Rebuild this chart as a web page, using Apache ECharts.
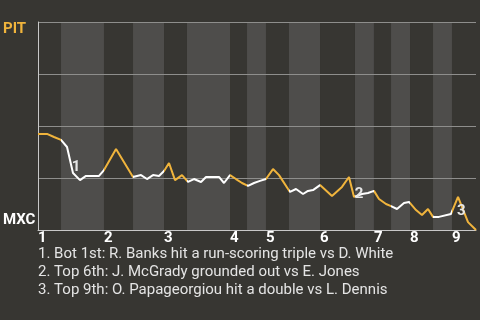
<!DOCTYPE html>
<html><head><meta charset="utf-8">
<script src="https://cdn.jsdelivr.net/npm/echarts@6/dist/echarts.min.js"></script>
<style>html,body{margin:0;padding:0;background:#373632;}#c{width:480px;height:320px;}</style>
</head><body><div id="c"></div>
<script>
// play index (x) and PIT win probability in % (y)
var playX = [0,1.54,2.74,3.94,4.97,5.99,7.19,8.22,10.45,11.30,13.36,16.27,17.64,18.66,19.69,20.72,21.58,22.43,23.46,24.66,25.68,26.71,27.91,28.77,30.99,31.85,32.88,33.90,34.93,35.96,36.99,38.01,39.04,40.24,41.27,43.15,44.18,45.38,46.23,47.09,48.29,50.34,52.05,53.25,54.11,55.48,56.51,57.53,58.39,59.59,60.45,61.47,62.67,63.53,64.73,65.75,66.78,67.64,68.66,70.72,71.92,73.63,75];
var winProb = [46.2,46.2,44.7,43.3,39.9,27.4,24.0,26.0,26.0,28.8,38.9,25.5,26.4,24.5,26.4,26.0,28.4,32.2,24.0,26.4,23.1,24.5,23.1,25.5,25.5,22.6,26.4,24.5,22.6,21.2,22.6,23.6,24.5,29.3,26.4,18.3,19.7,17.3,18.8,19.2,21.6,16.3,20.7,25.5,15.9,17.3,17.8,18.8,14.9,12.5,11.5,10.1,13.0,13.5,9.6,7.2,10.1,6.3,6.3,7.7,15.9,3.8,0];
// half-inning boundaries (top1, bot1, top2, bot2, ...) and the end
var halfInningStarts = [0,3.94,11.30,16.27,21.58,25.51,32.88,35.79,39.04,42.98,48.29,54.28,57.53,60.45,63.70,67.64,70.89];
var gameEnd = 75;
var inningLabels = ['1','2','3','4','5','6','7','8','9'];
var teamTop = 'PIT', teamBottom = 'MXC';
var notes = [
  '1. Bot 1st: R. Banks hit a run-scoring triple vs D. White',
  '2. Top 6th: J. McGrady grounded out vs E. Jones',
  '3. Top 9th: O. Papageorgiou hit a double vs L. Dennis'
];
var noteMarks = [[6.5,30.3,'1'],[54.97,17.3,'2'],[72.5,9.1,'3']];

var ORANGE = '#f0b43c', WHITE = '#ffffff', DARK = '#373632', LIGHT = '#4e4d4b';
var inningStarts = halfInningStarts.filter(function(v,i){return i%2===0;});

var bands = [], pieces = [];
for (var i=0;i<halfInningStarts.length;i++){
  var s = halfInningStarts[i], e = (i+1<halfInningStarts.length)?halfInningStarts[i+1]:gameEnd;
  var isTop = i%2===0;
  bands.push([{xAxis:s, itemStyle:{color: isTop?DARK:LIGHT}},{xAxis:e}]);
  pieces.push({gte:s, lt:(i+1<halfInningStarts.length)?e:gameEnd+1, color:isTop?ORANGE:WHITE});
}
var lineData = playX.map(function(x,i){return [x, winProb[i]];});

var chart = echarts.init(document.getElementById('c'));
chart.setOption({
  backgroundColor: DARK,
  animation: false,
  grid: {left:38, right:4, top:22, bottom:90},
  xAxis: {type:'value', min:0, max:gameEnd, z:2,
    axisLine:{show:true, lineStyle:{color:'#c8c8c8', width:1}},
    axisTick:{show:false}, splitLine:{show:false},
    axisLabel:{customValues: inningStarts, align:'left', margin:1,
      color:'#ffffff', fontFamily:'Roboto', fontWeight:'bold', fontSize:15,
      formatter:function(v){ var k = inningStarts.indexOf(v); return k>=0?inningLabels[k]:''; }}
  },
  yAxis: {type:'value', min:0, max:100, interval:25, z:2,
    axisLine:{show:true, lineStyle:{color:'#c8c8c8', width:1}},
    axisTick:{show:false}, axisLabel:{show:false},
    splitLine:{show:true, lineStyle:{color:'#8e8e8c', width:1}}
  },
  visualMap: {type:'piecewise', show:false, dimension:0, seriesIndex:1, pieces:pieces},
  series: [
    {type:'line', data:[], z:1, silent:true,
     markArea:{silent:true, data:bands}},
    {type:'line', data:lineData, z:3, symbol:'none', lineStyle:{width:2}, silent:true,
     markPoint:{symbol:'circle', symbolSize:1, itemStyle:{color:'rgba(0,0,0,0)'},
       label:{show:true, position:'inside', color:'#e6e6e6', fontFamily:'Roboto', fontWeight:'bold', fontSize:15,
         formatter:function(p){return p.name;}},
       data: noteMarks.map(function(m){return {name:m[2], coord:[m[0],m[1]]};})}
    }
  ],
  graphic: [
    {type:'text', left:3, top:22, style:{text:teamTop, fill:ORANGE, font:'bold 15px Roboto'}},
    {type:'text', left:3, top:213, style:{text:teamBottom, fill:'#ffffff', font:'bold 15px Roboto'}},
    {type:'text', left:38, top:245, style:{text:notes.join('\n'), fill:'#e4e4e4', font:'15px Roboto', lineHeight:18}}
  ]
});
</script></body></html>
